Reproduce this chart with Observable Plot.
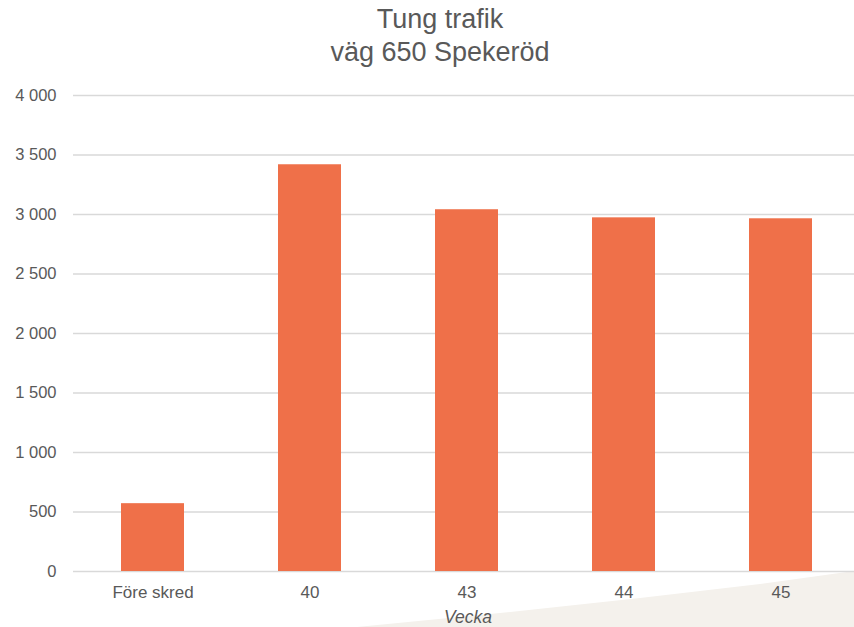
<!DOCTYPE html>
<html>
<head>
<meta charset="utf-8">
<script src="https://cdn.jsdelivr.net/npm/d3@7"></script>
<script src="https://cdn.jsdelivr.net/npm/@observablehq/plot@0.6"></script>
<style>
  html, body { margin: 0; padding: 0; background: #fff; }
  #wrap { position: relative; width: 854px; height: 627px; overflow: hidden; font-family: "Liberation Sans", Arial, sans-serif; }
  #wedge { position: absolute; left: 0; top: 0; width: 854px; height: 627px; background: #f4f1ec;
           clip-path: polygon(357px 627px, 500px 613px, 640px 598px, 760px 584px, 854px 571px, 854px 627px); }
  #title { position: relative; height: 80px; box-sizing: border-box; padding-top: 3px; padding-left: 26px;
           text-align: center; font-size: 27px; line-height: 33px; color: #595959; }
  #chart { position: relative; }
  svg { display: block; }
</style>
</head>
<body>
<div id="wrap">
  <div id="wedge"></div>
  <div id="title">Tung trafik<br>väg 650 Spekeröd</div>
  <div id="chart"></div>
</div>
<script>
const categories = ["Före skred", "40", "43", "44", "45"];
const values = [570, 3418, 3040, 2972, 2964];
const yTicks = [0, 500, 1000, 1500, 2000, 2500, 3000, 3500, 4000];
const xLabel = "Vecka";

const data = categories.map((c, i) => ({category: c, value: values[i]}));
const fmt = d => d3.format(",")(d).replace(/,/g, " ");

const chart = Plot.plot({
  width: 854,
  height: 547,
  marginTop: 15,
  marginBottom: 56,
  marginLeft: 73,
  marginRight: 0,
  style: {fontFamily: "'Liberation Sans', Arial, sans-serif", color: "#595959", background: "transparent", overflow: "visible"},
  x: {domain: categories, range: [72, 861], paddingInner: 0.6, paddingOuter: 0.3},
  y: {domain: [0, 4000]},
  marks: [
    Plot.ruleY(yTicks, {stroke: "#d9d9d9", strokeWidth: 1.5}),
    Plot.barY(data, {x: "category", y: "value", fill: "#EF7049"}),
    Plot.axisY(yTicks, {tickSize: 0, tickPadding: 17, tickFormat: fmt, fontSize: 16.5, fill: "#595959", label: null}),
    Plot.axisX({tickSize: 0, tickPadding: 14, fontSize: 17, fill: "#595959", label: null}),
    Plot.text([xLabel], {frameAnchor: "bottom", dx: 4, dy: 51, fontStyle: "italic", fontSize: 17.5, fill: "#595959"})
  ]
});
document.getElementById("chart").appendChild(chart);
</script>
</body>
</html>
